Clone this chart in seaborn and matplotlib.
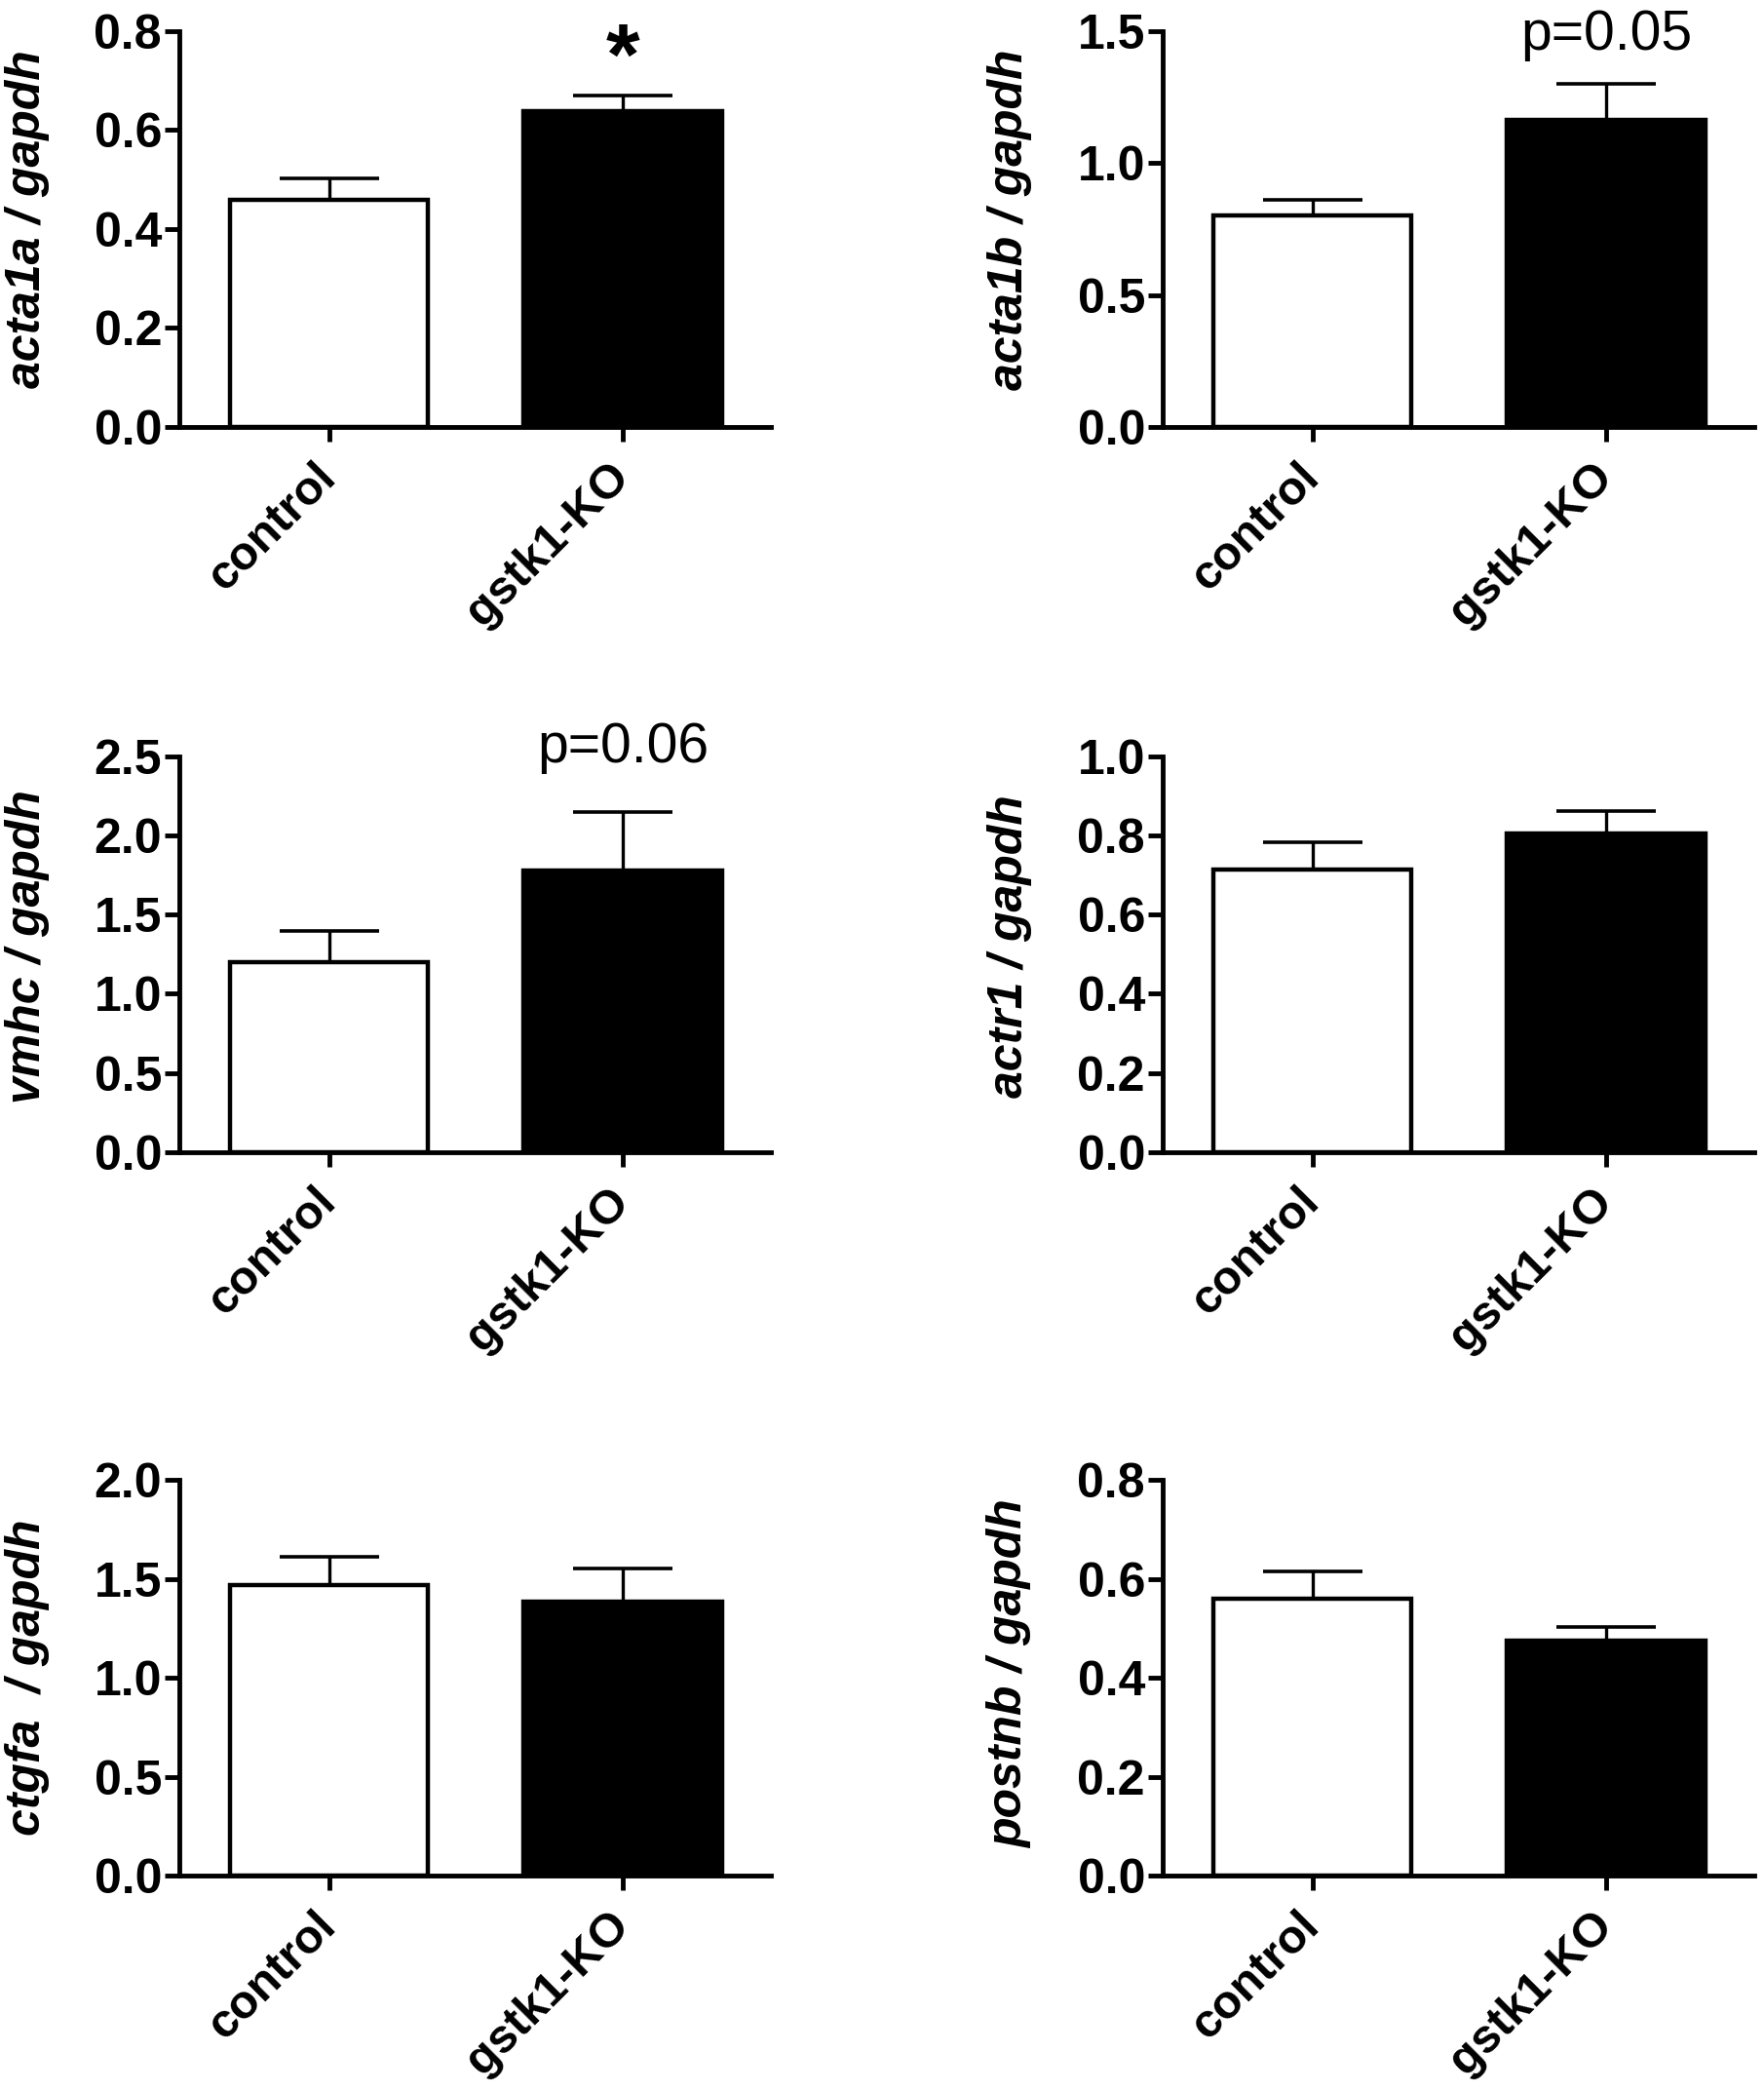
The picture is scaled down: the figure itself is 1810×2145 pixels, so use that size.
import pandas as pd
import matplotlib
matplotlib.use('Agg')
import matplotlib.pyplot as plt
import seaborn as sns

# qPCR expression values (mean and SEM, relative to gapdh)
genes = ['acta1a', 'acta1b', 'vmhc', 'actr1', 'ctgfa', 'postnb']
ylabels = ['acta1a / gapdh', 'acta1b / gapdh', 'vmhc / gapdh',
           'actr1 / gapdh', 'ctgfa  / gapdh', 'postnb / gapdh']
groups = ['control', 'gstk1-KO']
control_mean = [0.46, 0.80, 1.20, 0.713, 1.47, 0.56]
control_sem = [0.043, 0.06, 0.20, 0.071, 0.14, 0.055]
ko_mean = [0.638, 1.165, 1.78, 0.805, 1.385, 0.475]
ko_sem = [0.031, 0.135, 0.37, 0.057, 0.165, 0.027]
ymax = [0.8, 1.5, 2.5, 1.0, 2.0, 0.8]
ystep = [0.2, 0.5, 0.5, 0.2, 0.5, 0.2]
marks = ['*', 'p=0.05', 'p=0.06', '', '', '']

sns.set_style('ticks')
plt.rcParams['font.family'] = ['Liberation Sans', 'DejaVu Sans']
for key in ['text.color', 'axes.labelcolor', 'xtick.color',
            'ytick.color', 'axes.edgecolor']:
    plt.rcParams[key] = 'black'

fig = plt.figure(figsize=(18.1, 21.45), dpi=100)

# axes boxes [left, bottom, width, height] in figure fractions
lefts = [0.1017, 0.6591]
bottoms = [0.7958, 0.449, 0.103]
w = 0.3354
h = 0.1893
label_y = [0.525, 0.525, 0.52, 0.52, 0.5, 0.51]

for i, gene in enumerate(genes):
    row, col = divmod(i, 2)
    ax = fig.add_axes([lefts[col], bottoms[row], w, h])

    df = pd.DataFrame({'group': groups,
                       'value': [control_mean[i], ko_mean[i]]})
    sns.barplot(data=df, x='group', y='value', hue='group',
                palette=['white', 'black'], edgecolor='black',
                linewidth=3.2, width=0.675, errorbar=None,
                legend=False, ax=ax)
    ax.errorbar([0, 1], [control_mean[i], ko_mean[i]],
                yerr=[[0, 0], [control_sem[i], ko_sem[i]]],
                fmt='none', ecolor='black', elinewidth=2.4,
                capsize=37, capthick=2.6, zorder=1, clip_on=False)

    ax.set_xlim(-0.51, 1.505)
    ax.set_ylim(0, ymax[i])
    n = int(round(ymax[i] / ystep[i]))
    ticks = [ystep[i] * k for k in range(n + 1)]
    ax.set_yticks(ticks)
    ax.set_yticklabels([f'{t:.1f}' for t in ticks],
                       fontsize=36, fontweight='bold')
    ax.set_xticks([0, 1])
    ax.set_xticklabels(groups, fontsize=35, fontweight='bold',
                       rotation=45, ha='right', va='center',
                       rotation_mode='anchor')

    ax.set_xlabel('')
    ax.set_ylabel(ylabels[i], fontsize=36, fontweight='bold',
                  fontstyle='italic')
    ax.yaxis.set_label_coords(-0.22, label_y[i])

    for s in ['top', 'right']:
        ax.spines[s].set_visible(False)
    for s in ['left', 'bottom']:
        ax.spines[s].set_linewidth(3.5)
    ax.tick_params(axis='y', length=11, width=3.5, pad=2)
    ax.tick_params(axis='x', length=11, width=3.5, pad=21)

    if marks[i] == '*':
        ax.text(1, 0.867, '*', transform=ax.get_xaxis_transform(),
                ha='center', va='baseline', fontsize=64, fontweight='bold')
    elif marks[i]:
        ax.text(1, 0.953 if marks[i] == 'p=0.05' else 0.985, marks[i],
                transform=ax.get_xaxis_transform(),
                ha='center', va='baseline', fontsize=41)

fig.savefig('out.png', dpi=100, facecolor='white')
